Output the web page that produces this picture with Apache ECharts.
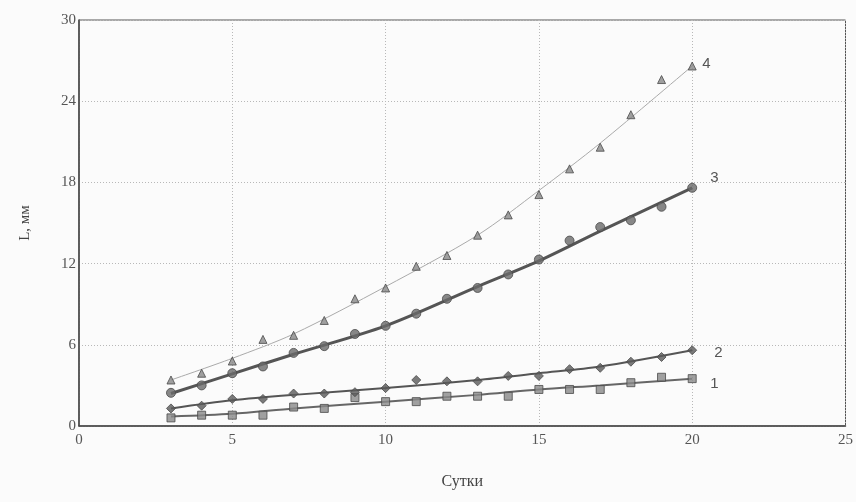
<!DOCTYPE html>
<html lang="ru">
<head>
    <meta charset="UTF-8">
    <title>L(сутки)</title>
    <script src="https://cdn.jsdelivr.net/npm/echarts@6/dist/echarts.min.js"></script>
    <style>
        html, body { margin: 0; padding: 0; background: #fbfbfb; }
        #main { width: 856px; height: 502px; }
    </style>
</head>
<body>
<div id="main"></div>
<script>
    // сутки, для которых есть замеры
    var days = [3, 4, 5, 6, 7, 8, 9, 10, 11, 12, 13, 14, 15, 16, 17, 18, 19, 20];
    // замеры L, мм
    var s1 = [0.6, 0.8, 0.8, 0.8, 1.4, 1.3, 2.1, 1.8, 1.8, 2.2, 2.2, 2.2, 2.7, 2.7, 2.7, 3.2, 3.6, 3.5];
    var s2 = [1.3, 1.5, 2.0, 2.0, 2.4, 2.4, 2.5, 2.8, 3.4, 3.3, 3.3, 3.7, 3.7, 4.2, 4.3, 4.75, 5.1, 5.6];
    var s3 = [2.45, 3.0, 3.9, 4.4, 5.4, 5.9, 6.8, 7.4, 8.3, 9.4, 10.2, 11.2, 12.3, 13.7, 14.7, 15.2, 16.2, 17.6];
    var s4 = [3.4, 3.9, 4.8, 6.4, 6.7, 7.8, 9.4, 10.2, 11.8, 12.6, 14.1, 15.6, 17.1, 19.0, 20.6, 23.0, 25.6, 26.6];
    // аппроксимирующие кривые
    var fitDays = [3, 5, 7, 10, 13, 15, 17, 20];
    var fit1 = [0.7, 0.9, 1.3, 1.8, 2.3, 2.7, 3.0, 3.5];
    var fit2 = [1.3, 1.9, 2.3, 2.8, 3.4, 3.9, 4.4, 5.6];
    var fit3 = [2.4, 3.85, 5.3, 7.4, 10.3, 12.2, 14.4, 17.6];
    var fit4 = [3.4, 5.0, 6.8, 10.3, 14.1, 17.4, 20.9, 26.6];
    var xTicks = [0, 5, 10, 15, 20, 25];
    var yTicks = [0, 6, 12, 18, 24, 30];

    function pairs(xs, ys) {
        return xs.map(function (x, i) { return [x, ys[i]]; });
    }

    var font = '"Liberation Serif", "DejaVu Serif", serif';

    function fitLine(name, data, color, width, dx, dy) {
        return {
            name: name,
            type: 'line',
            data: pairs(fitDays, data),
            smooth: 0.3,
            symbol: 'none',
            silent: true,
            z: 2,
            lineStyle: {color: color, width: width},
            endLabel: {
                show: true,
                formatter: name,
                color: '#555',
                fontFamily: '"Liberation Sans", Arial, sans-serif',
                fontSize: 15,
                offset: [dx, dy]
            }
        };
    }

    function points(name, data, symbol, size, color) {
        return {
            name: name,
            type: 'scatter',
            data: pairs(days, data),
            symbol: symbol,
            symbolSize: size,
            z: 3,
            itemStyle: {color: color, borderColor: '#4a4a4a', borderWidth: 1}
        };
    }

    var chart = echarts.init(document.getElementById('main'));
    chart.setOption({
        animation: false,
        backgroundColor: '#fbfbfb',
        grid: {
            left: 79, right: 5, top: 20, bottom: 76,
            show: true,
            borderColor: '#555',
            borderWidth: 1
        },
        xAxis: {
            type: 'value',
            min: xTicks[0],
            max: xTicks[xTicks.length - 1],
            interval: 5,
            name: 'Сутки',
            nameLocation: 'middle',
            nameGap: 48,
            nameTextStyle: {color: '#444', fontFamily: font, fontSize: 16},
            axisLine: {lineStyle: {color: '#444', width: 1.5}},
            axisTick: {show: false},
            axisLabel: {color: '#555', fontFamily: font, fontSize: 15, margin: 7},
            splitLine: {lineStyle: {color: '#b8b8b8', type: [1, 2]}}
        },
        yAxis: {
            type: 'value',
            min: yTicks[0],
            max: yTicks[yTicks.length - 1],
            interval: 6,
            name: 'L, мм',
            nameLocation: 'middle',
            nameGap: 46,
            nameTextStyle: {color: '#444', fontFamily: font, fontSize: 15},
            axisLine: {show: true, lineStyle: {color: '#444', width: 1.5}},
            axisTick: {show: false},
            axisLabel: {color: '#555', fontFamily: font, fontSize: 15, margin: 3},
            splitLine: {lineStyle: {color: '#b8b8b8', type: [1, 2]}}
        },
        series: [
            fitLine('1', fit1, '#666', 2, 10, 5),
            fitLine('2', fit2, '#555', 2, 14, 3),
            fitLine('3', fit3, '#555', 3, 10, -10),
            fitLine('4', fit4, '#aaa', 1, 2, -2),
            points('1', s1, 'rect', 8, '#8a8a8a'),
            points('2', s2, 'diamond', 9, '#5a5a5a'),
            points('3', s3, 'circle', 9, '#6a6a6a'),
            points('4', s4, 'triangle', 8, '#888')
        ]
    });
</script>
</body>
</html>
